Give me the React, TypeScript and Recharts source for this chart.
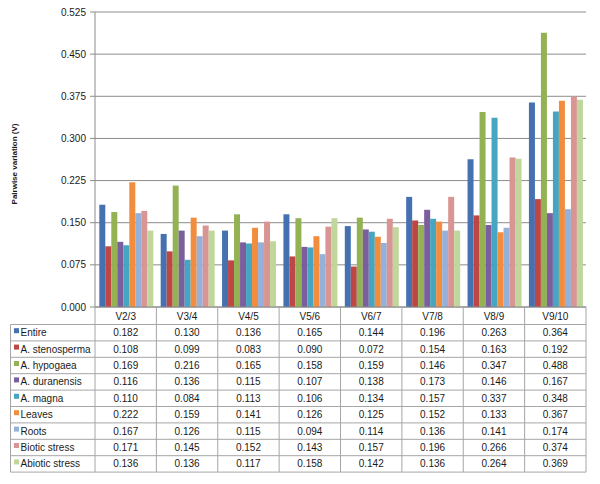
import { Bar, BarChart, CartesianGrid, XAxis, YAxis } from "recharts";

const CATEGORIES = ["V2/3", "V3/4", "V4/5", "V5/6", "V6/7", "V7/8", "V8/9", "V9/10"];

const ENTIRE = [0.182, 0.13, 0.136, 0.165, 0.144, 0.196, 0.263, 0.364];
const STENOSPERMA = [0.108, 0.099, 0.083, 0.09, 0.072, 0.154, 0.163, 0.192];
const HYPOGAEA = [0.169, 0.216, 0.165, 0.158, 0.159, 0.146, 0.347, 0.488];
const DURANENSIS = [0.116, 0.136, 0.115, 0.107, 0.138, 0.173, 0.146, 0.167];
const MAGNA = [0.11, 0.084, 0.113, 0.106, 0.134, 0.157, 0.337, 0.348];
const LEAVES = [0.222, 0.159, 0.141, 0.126, 0.125, 0.152, 0.133, 0.367];
const ROOTS = [0.167, 0.126, 0.115, 0.094, 0.114, 0.136, 0.141, 0.174];
const BIOTIC = [0.171, 0.145, 0.152, 0.143, 0.157, 0.196, 0.266, 0.374];
const ABIOTIC = [0.136, 0.136, 0.117, 0.158, 0.142, 0.136, 0.264, 0.369];

const Y_TICKS = [0, 0.075, 0.15, 0.225, 0.3, 0.375, 0.45, 0.525];

const SERIES = [
  { name: "Entire", values: ENTIRE, color: "#4571B0" },
  { name: "A. stenosperma", values: STENOSPERMA, color: "#BC4745" },
  { name: "A. hypogaea", values: HYPOGAEA, color: "#93B253" },
  { name: "A. duranensis", values: DURANENSIS, color: "#7A5E9E" },
  { name: "A. magna", values: MAGNA, color: "#46A6C1" },
  { name: "Leaves", values: LEAVES, color: "#F28D3E" },
  { name: "Roots", values: ROOTS, color: "#95B1D9" },
  { name: "Biotic stress", values: BIOTIC, color: "#D99593" },
  { name: "Abiotic stress", values: ABIOTIC, color: "#C0D69B" },
];

const data = CATEGORIES.map((cat, i) => {
  const row: Record<string, string | number> = { cat };
  SERIES.forEach((s) => (row[s.name] = s.values[i]));
  return row;
});

// layout
const W = 600;
const H = 484;
const Y_AXIS_W = 95;
const RIGHT = 14;
const TOP = 12;
const X_AXIS_H = 177;
const PLOT_BOTTOM = H - X_AXIS_H;
const COL_W = (W - Y_AXIS_W - RIGHT) / CATEGORIES.length;
const TABLE_TOP = 324.5;
const ROW_H = 16.4;
const TABLE_BOTTOM = TABLE_TOP + ROW_H * SERIES.length;
const TABLE_LEFT = 10.5;
const LINE = "#A6A6A6";
const FONT = "'Liberation Sans', Arial, sans-serif";

function TableColumn(props: any) {
  const { x, index, payload } = props;
  const left = x - COL_W / 2;
  const right = x + COL_W / 2;
  return (
    <g fontFamily={FONT} fontSize={10} fill="#1a1a1a">
      {index === 0 && (
        <g>
          <line x1={TABLE_LEFT} x2={TABLE_LEFT} y1={TABLE_TOP} y2={TABLE_BOTTOM} stroke={LINE} />
          {SERIES.map((s, r) => {
            const cy = TABLE_TOP + ROW_H * (r + 0.5);
            return (
              <g key={s.name}>
                <line x1={TABLE_LEFT} x2={left} y1={TABLE_TOP + ROW_H * r} y2={TABLE_TOP + ROW_H * r} stroke={LINE} />
                <rect x={14} y={cy - 4.5} width={5} height={5} fill={s.color} />
                <text x={20.5} y={cy} dominantBaseline="central">
                  {s.name}
                </text>
              </g>
            );
          })}
          <line x1={TABLE_LEFT} x2={left} y1={TABLE_BOTTOM} y2={TABLE_BOTTOM} stroke={LINE} />
        </g>
      )}
      <line x1={left} x2={left} y1={PLOT_BOTTOM} y2={TABLE_BOTTOM} stroke={LINE} />
      {index === CATEGORIES.length - 1 && (
        <line x1={right} x2={right} y1={PLOT_BOTTOM} y2={TABLE_BOTTOM} stroke={LINE} />
      )}
      <text x={x} y={(PLOT_BOTTOM + TABLE_TOP) / 2 + 0.5} textAnchor="middle" dominantBaseline="central">
        {payload.value}
      </text>
      {SERIES.map((s, r) => (
        <g key={s.name}>
          <line x1={left} x2={right} y1={TABLE_TOP + ROW_H * r} y2={TABLE_TOP + ROW_H * r} stroke={LINE} />
          <text x={x} y={TABLE_TOP + ROW_H * (r + 0.5)} textAnchor="middle" dominantBaseline="central">
            {s.values[index].toFixed(3)}
          </text>
        </g>
      ))}
      <line x1={left} x2={right} y1={TABLE_BOTTOM} y2={TABLE_BOTTOM} stroke={LINE} />
    </g>
  );
}

export default function App() {
  return (
    <div style={{ position: "absolute", left: 0, top: 0, width: W, height: H, background: "#fff" }}>
      <BarChart
        width={W}
        height={H}
        data={data}
        margin={{ top: TOP, right: RIGHT, bottom: 0, left: 0 }}
        barCategoryGap="7%"
        barGap={0}
      >
        <CartesianGrid vertical={false} stroke="#8C8C8C" />
        <XAxis
          dataKey="cat"
          height={X_AXIS_H}
          interval={0}
          tickLine={false}
          axisLine={{ stroke: "#8C8C8C" }}
          tick={(p: any) => <TableColumn {...p} />}
        />
        <YAxis
          width={Y_AXIS_W}
          domain={[0, 0.525]}
          ticks={Y_TICKS}
          tickFormatter={(v: number) => v.toFixed(3)}
          tickSize={5}
          tickMargin={4}
          tickLine={{ stroke: "#8C8C8C" }}
          axisLine={{ stroke: "#8C8C8C" }}
          tick={{ fontSize: 10, fill: "#1a1a1a", fontFamily: FONT }}
          label={{
            content: () => (
              <text
                x={14}
                y={164}
                transform="rotate(-90 14 164)"
                textAnchor="middle"
                dominantBaseline="central"
                fontFamily={FONT}
                fontSize={8}
                fontWeight="bold"
                fill="#1a1a1a"
              >
                Pairwise variation (V)
              </text>
            ),
          }}
        />
        {SERIES.map((s) => (
          <Bar key={s.name} dataKey={s.name} fill={s.color} isAnimationActive={false} />
        ))}
      </BarChart>
    </div>
  );
}
